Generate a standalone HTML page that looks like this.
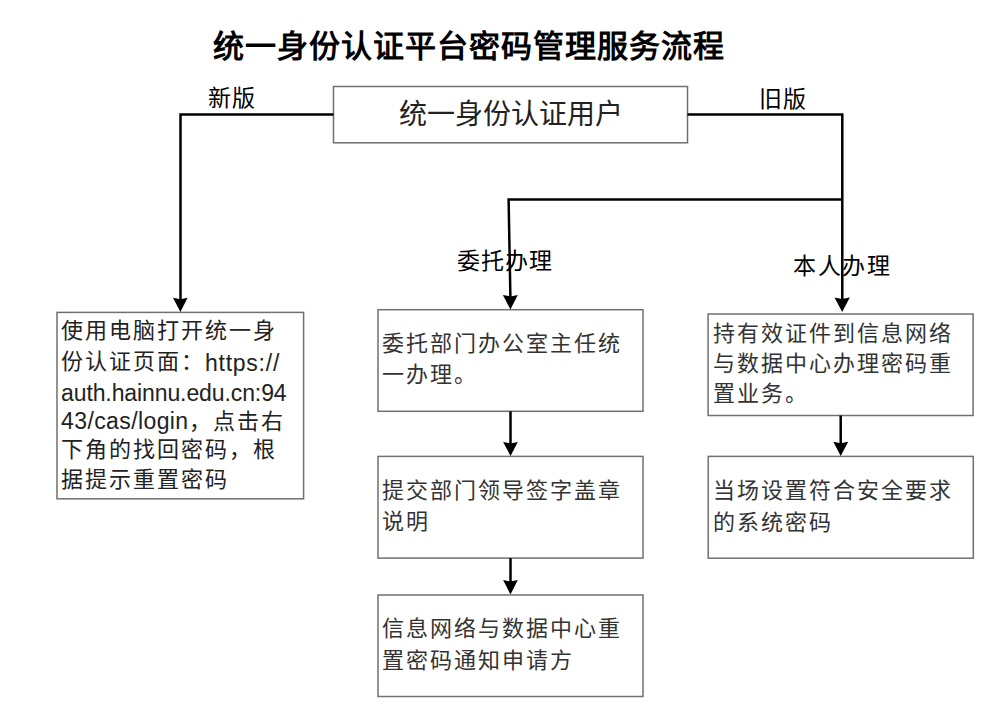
<!DOCTYPE html>
<html lang="zh-CN">
<head>
<meta charset="utf-8">
<style>
html,body{margin:0;padding:0;background:#fff;}
body{width:1006px;height:725px;position:relative;overflow:hidden;font-family:"Liberation Sans",sans-serif;color:#000;}
svg{position:absolute;left:0;top:0;}
.t{position:absolute;white-space:nowrap;line-height:1;}
.title{font-size:31px;letter-spacing:1px;font-weight:bold;}
.lab{font-size:23px;letter-spacing:1px;}
.bx{font-size:22px;letter-spacing:2px;color:#333;}
.lb{color:#222;}
.usr{font-size:28px;color:#222;}
.lat{letter-spacing:0;font-size:23px;}
</style>
</head>
<body>
<svg width="1006" height="725" viewBox="0 0 1006 725">
<g fill="none" stroke="#707070" stroke-width="1.5">
<rect x="333.5" y="86.5" width="354" height="56.3"/>
<rect x="57" y="312.4" width="246.6" height="186.4"/>
<rect x="378" y="309.7" width="265" height="101.6"/>
<rect x="378" y="456.4" width="265" height="101.7"/>
<rect x="378" y="595" width="265" height="101.5"/>
<rect x="708.1" y="314" width="265" height="101.5"/>
<rect x="708.2" y="456.4" width="265.1" height="101.8"/>
</g>
<g fill="none" stroke="#000" stroke-width="2.5">
<polyline points="333.5,114.5 180.5,114.5 180.5,300"/>
<polyline points="687.5,114.5 842.3,114.5 842.3,300"/>
<polyline points="842.3,199.5 508.6,199.5 510.4,297"/>
<line x1="510.5" y1="411.3" x2="510.5" y2="444"/>
<line x1="510.5" y1="558.1" x2="510.5" y2="582"/>
<line x1="840.7" y1="415.5" x2="840.7" y2="444"/>
</g>
<g fill="#000">
<path d="M173,297.7 L180.4,299.2 L187.6,297.7 L180.4,312 Z"/>
<path d="M834.5,297.4 L842.2,299 L849.8,297.4 L842.2,312 Z"/>
<path d="M502.9,295 L510.4,296.4 L517.8,295 L510.4,309.4 Z"/>
<path d="M503.1,442 L510.5,443.4 L517.8,442 L510.5,456 Z"/>
<path d="M503.1,580.1 L510.5,581.5 L517.8,580.1 L510.5,594.6 Z"/>
<path d="M833.3,441.8 L840.7,443.2 L848.2,441.8 L840.7,456 Z"/>
</g>
</svg>

<div class="t title" style="left:213px;top:31px;">统一身份认证平台密码管理服务流程</div>
<div class="t lab" style="left:208px;top:87px;">新版</div>
<div class="t lab" style="left:759px;top:88px;">旧版</div>
<div class="t usr" style="left:399px;top:101px;">统一身份认证用户</div>
<div class="t lab" style="left:457px;top:249.5px;">委托办理</div>
<div class="t lab" style="left:793px;top:254.5px;letter-spacing:1.5px;">本人办理</div>

<div class="t bx lb" style="left:61px;top:320.2px;">使用电脑打开统一身</div>
<div class="t bx lb" style="left:61px;top:350px;">份认证页面：<span class="lat" style="letter-spacing:0.75px;position:relative;top:2px">https://</span></div>
<div class="t bx lb" style="left:61px;top:381.5px;"><span class="lat" style="letter-spacing:-0.1px">auth.hainnu.edu.cn:94</span></div>
<div class="t bx lb" style="left:61px;top:409.5px;"><span class="lat" style="letter-spacing:0.4px;position:relative;top:0.6px">43/cas/login</span>，点击右</div>
<div class="t bx lb" style="left:61px;top:438.5px;">下角的找回密码，根</div>
<div class="t bx lb" style="left:61px;top:468.5px;">据提示重置密码</div>

<div class="t bx" style="left:382px;top:333px;">委托部门办公室主任统</div>
<div class="t bx" style="left:382px;top:364px;">一办理。</div>

<div class="t bx" style="left:382px;top:480px;">提交部门领导签字盖章</div>
<div class="t bx" style="left:382px;top:510.7px;">说明</div>

<div class="t bx" style="left:382px;top:618.3px;">信息网络与数据中心重</div>
<div class="t bx" style="left:382px;top:650px;">置密码通知申请方</div>

<div class="t bx" style="left:713px;top:323px;">持有效证件到信息网络</div>
<div class="t bx" style="left:713px;top:352.8px;">与数据中心办理密码重</div>
<div class="t bx" style="left:713px;top:382.7px;">置业务。</div>

<div class="t bx" style="left:713px;top:480.3px;">当场设置符合安全要求</div>
<div class="t bx" style="left:713px;top:511.7px;">的系统密码</div>
</body>
</html>
